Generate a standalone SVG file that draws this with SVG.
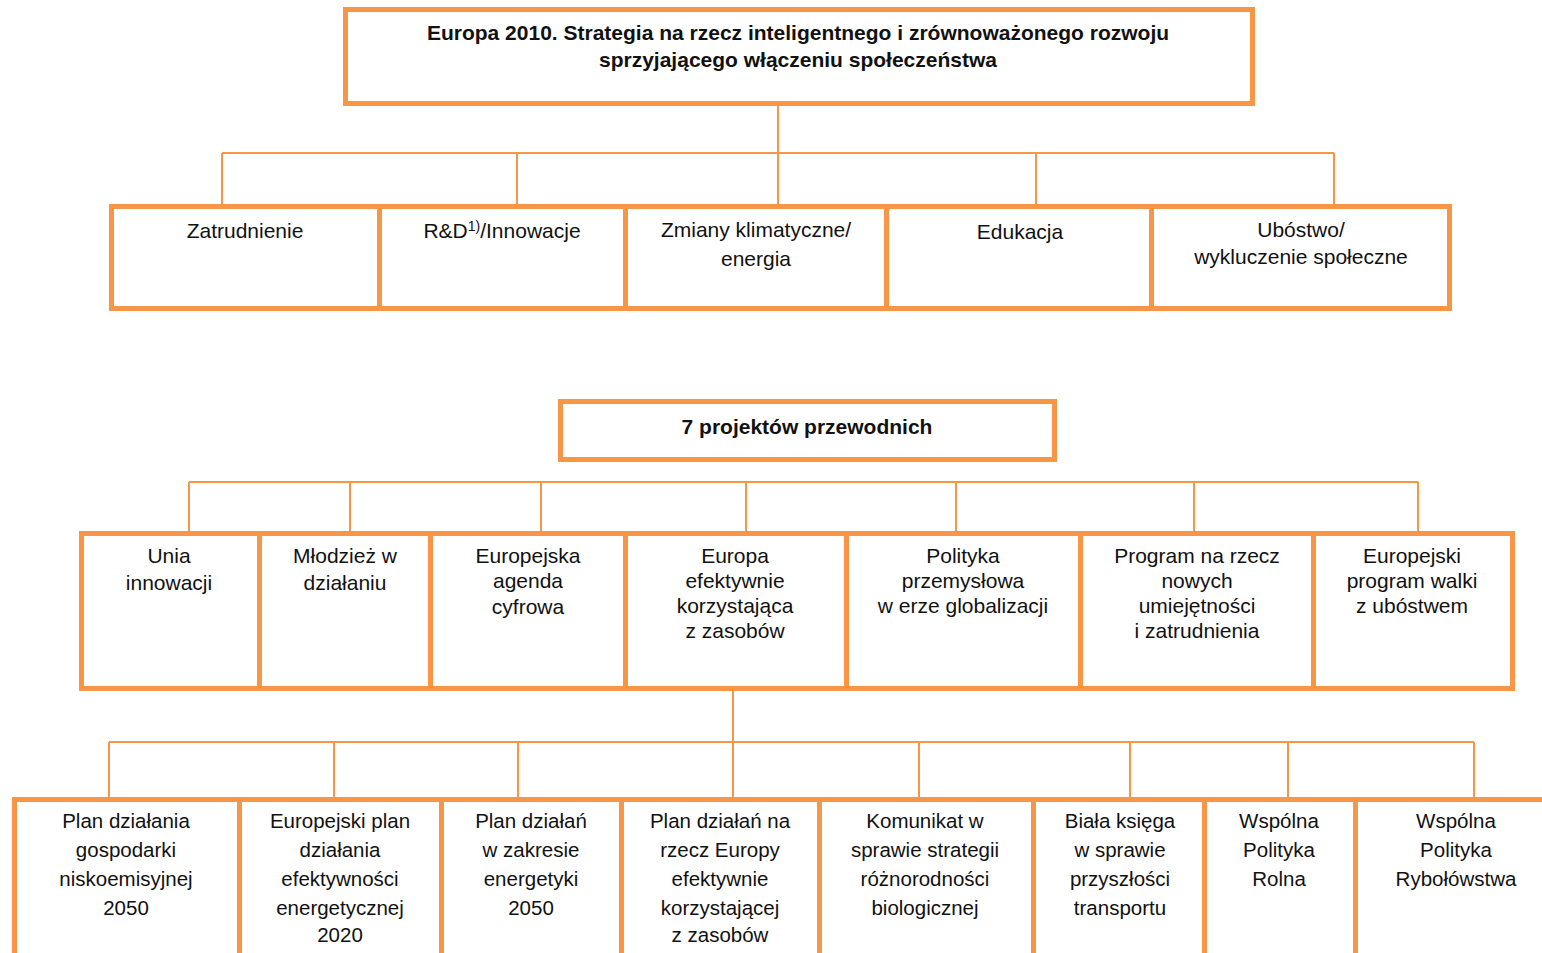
<svg xmlns="http://www.w3.org/2000/svg" width="1542" height="953" viewBox="0 0 1542 953">
<style>
.box{fill:#fff;stroke:#F79646;stroke-width:5}
.con{stroke:#F79646;stroke-width:2;fill:none}
text{font-family:"Liberation Sans","DejaVu Sans",sans-serif;font-size:21px;fill:#111;text-anchor:middle}
.b{font-weight:bold;font-size:21px}
.s{font-size:20.5px}
</style>
<rect width="1542" height="953" fill="#fff"/>
<g id="connectors">
<path class="con" d="M778 105V153M222 153H1334M222 153V204M517 153V204M778 153V204M1036 153V204M1334 153V204"/>
<path class="con" d="M189 482H1418M189 482V531M350 482V531M541 482V531M746 482V531M956 482V531M1194 482V531M1418 482V531"/>
<path class="con" d="M733 690V742M109 742H1474M109 742V797M334 742V797M518 742V797M733 742V797M919 742V797M1130 742V797M1288 742V797M1474 742V797"/>
</g>
<g id="n-top"><rect class="box" x="345.5" y="9.5" width="907" height="94"/>
<text class="b" x="798" y="40">Europa 2010. Strategia na rzecz inteligentnego i zrównoważonego rozwoju</text>
<text class="b" x="798" y="67">sprzyjającego włączeniu społeczeństwa</text></g>
<g id="n-zatr"><rect class="box" x="111.5" y="206.5" width="268" height="102"/><text x="245" y="238">Zatrudnienie</text></g>
<g id="n-rd"><rect class="box" x="379.5" y="206.5" width="246" height="102"/><text x="502" y="238">R&amp;D<tspan font-size="14" dy="-7">1)</tspan><tspan dy="7">/Innowacje</tspan></text></g>
<g id="n-klim"><rect class="box" x="625.5" y="206.5" width="261" height="102"/><text x="756" y="237">Zmiany klimatyczne/</text><text x="756" y="266">energia</text></g>
<g id="n-edu"><rect class="box" x="886.5" y="206.5" width="265" height="102"/><text x="1020" y="239">Edukacja</text></g>
<g id="n-ubo"><rect class="box" x="1151.5" y="206.5" width="298" height="102"/><text x="1301" y="237">Ubóstwo/</text><text x="1301" y="264">wykluczenie społeczne</text></g>
<g id="n-7"><rect class="box" x="560.5" y="401.5" width="494" height="58"/><text class="b" x="807" y="434">7 projektów przewodnich</text></g>
<g id="n-unia"><rect class="box" x="81.5" y="533.5" width="178" height="155"/><text x="169" y="563">Unia</text><text x="169" y="590">innowacji</text></g>
<g id="n-mlo"><rect class="box" x="259.5" y="533.5" width="171" height="155"/><text x="345" y="563">Młodzież w</text><text x="345" y="590">działaniu</text></g>
<g id="n-cyf"><rect class="box" x="430.5" y="533.5" width="195" height="155"/><text x="528" y="563">Europejska</text><text x="528" y="588">agenda</text><text x="528" y="614">cyfrowa</text></g>
<g id="n-zas"><rect class="box" x="625.5" y="533.5" width="221" height="155"/><text x="735" y="563">Europa</text><text x="735" y="588">efektywnie</text><text x="735" y="613">korzystająca</text><text x="735" y="638">z zasobów</text></g>
<g id="n-pol"><rect class="box" x="846.5" y="533.5" width="234" height="155"/><text x="963" y="563">Polityka</text><text x="963" y="588">przemysłowa</text><text x="963" y="613">w erze globalizacji</text></g>
<g id="n-prog"><rect class="box" x="1080.5" y="533.5" width="233" height="155"/><text x="1197" y="563">Program na rzecz</text><text x="1197" y="588">nowych</text><text x="1197" y="613">umiejętności</text><text x="1197" y="638">i zatrudnienia</text></g>
<g id="n-ubw"><rect class="box" x="1313.5" y="533.5" width="199" height="155"/><text x="1412" y="563">Europejski</text><text x="1412" y="588">program walki</text><text x="1412" y="613">z ubóstwem</text></g>
<g id="n-p1" class="s"><rect class="box" x="14.5" y="799.5" width="225" height="170"/><text class="s" x="126" y="828">Plan działania</text><text class="s" x="126" y="857">gospodarki</text><text class="s" x="126" y="886">niskoemisyjnej</text><text class="s" x="126" y="915">2050</text></g>
<g id="n-p2"><rect class="box" x="239.5" y="799.5" width="202" height="170"/><text class="s" x="340" y="828">Europejski plan</text><text class="s" x="340" y="857">działania</text><text class="s" x="340" y="886">efektywności</text><text class="s" x="340" y="915">energetycznej</text><text class="s" x="340" y="942">2020</text></g>
<g id="n-p3"><rect class="box" x="441.5" y="799.5" width="180" height="170"/><text class="s" x="531" y="828">Plan działań</text><text class="s" x="531" y="857">w zakresie</text><text class="s" x="531" y="886">energetyki</text><text class="s" x="531" y="915">2050</text></g>
<g id="n-p4"><rect class="box" x="621.5" y="799.5" width="198" height="170"/><text class="s" x="720" y="828">Plan działań na</text><text class="s" x="720" y="857">rzecz Europy</text><text class="s" x="720" y="886">efektywnie</text><text class="s" x="720" y="915">korzystającej</text><text class="s" x="720" y="942">z zasobów</text></g>
<g id="n-p5"><rect class="box" x="819.5" y="799.5" width="214" height="170"/><text class="s" x="925" y="828">Komunikat w</text><text class="s" x="925" y="857">sprawie strategii</text><text class="s" x="925" y="886">różnorodności</text><text class="s" x="925" y="915">biologicznej</text></g>
<g id="n-p6"><rect class="box" x="1033.5" y="799.5" width="171" height="170"/><text class="s" x="1120" y="828">Biała księga</text><text class="s" x="1120" y="857">w sprawie</text><text class="s" x="1120" y="886">przyszłości</text><text class="s" x="1120" y="915">transportu</text></g>
<g id="n-p7"><rect class="box" x="1204.5" y="799.5" width="151" height="170"/><text class="s" x="1279" y="828">Wspólna</text><text class="s" x="1279" y="857">Polityka</text><text class="s" x="1279" y="886">Rolna</text></g>
<g id="n-p8"><rect class="box" x="1355.5" y="799.5" width="200" height="170"/><text class="s" x="1456" y="828">Wspólna</text><text class="s" x="1456" y="857">Polityka</text><text class="s" x="1456" y="886">Rybołówstwa</text></g>
</svg>
